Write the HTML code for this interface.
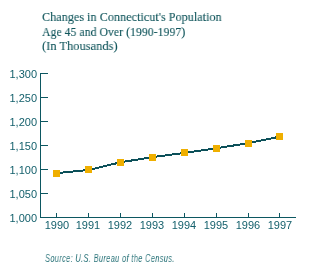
<!DOCTYPE html>
<html><head><meta charset="utf-8">
<style>
html,body{margin:0;padding:0;background:#fff;width:311px;height:270px;overflow:hidden;position:relative}
.t{position:absolute;left:42px;font-family:"Liberation Serif",serif;font-size:13.5px;color:#10555b;-webkit-text-stroke:0.1px #10555b;white-space:nowrap;line-height:14px;transform-origin:0 0;will-change:transform}
.yl{position:absolute;will-change:transform;font-family:"Liberation Sans",sans-serif;font-size:11px;color:#14606c;white-space:nowrap;line-height:11px;text-align:right;width:40px;left:-3px}
.xl{position:absolute;will-change:transform;font-family:"Liberation Sans",sans-serif;font-size:11px;color:#14606c;white-space:nowrap;line-height:11px;text-align:center;width:40px}
.src{position:absolute;will-change:transform;left:45px;top:253.5px;font-family:"Liberation Sans",sans-serif;font-style:italic;font-size:10px;color:#2b747a;letter-spacing:0.48px;white-space:nowrap;line-height:10px;transform:scaleX(0.74);transform-origin:0 0}
svg{position:absolute;left:0;top:0}
</style></head><body>
<div class="t" style="top:10px;transform:scaleX(0.905)">Changes in Connecticut's Population</div>
<div class="t" style="top:24.5px;transform:scaleX(0.876)">Age 45 and Over (1990-1997)</div>
<div class="t" style="top:38.5px;transform:scaleX(0.925)">(In Thousands)</div>

<div class="yl" style="top:69px">1,300</div>
<div class="yl" style="top:93px">1,250</div>
<div class="yl" style="top:117px">1,200</div>
<div class="yl" style="top:141px">1,150</div>
<div class="yl" style="top:165px">1,100</div>
<div class="yl" style="top:189px">1,050</div>
<div class="yl" style="top:213px">1,000</div>

<div class="xl" style="left:37px;top:220px">1990</div>
<div class="xl" style="left:68px;top:220px">1991</div>
<div class="xl" style="left:100px;top:220px">1992</div>
<div class="xl" style="left:132px;top:220px">1993</div>
<div class="xl" style="left:164px;top:220px">1994</div>
<div class="xl" style="left:196px;top:220px">1995</div>
<div class="xl" style="left:228px;top:220px">1996</div>
<div class="xl" style="left:260px;top:220px">1997</div>

<svg width="311" height="270" viewBox="0 0 311 270">
<g fill="#0c5761" shape-rendering="crispEdges">
<rect x="40" y="73" width="1" height="145"/>
<rect x="40" y="217" width="256" height="1"/>
<rect x="40" y="73" width="8" height="1"/>
<rect x="40" y="97" width="8" height="1"/>
<rect x="40" y="121" width="8" height="1"/>
<rect x="40" y="145" width="8" height="1"/>
<rect x="40" y="169" width="8" height="1"/>
<rect x="40" y="193" width="8" height="1"/>
<rect x="56" y="213" width="1" height="4"/>
<rect x="88" y="213" width="1" height="4"/>
<rect x="120" y="213" width="1" height="4"/>
<rect x="152" y="213" width="1" height="4"/>
<rect x="184" y="213" width="1" height="4"/>
<rect x="216" y="213" width="1" height="4"/>
<rect x="248" y="213" width="1" height="4"/>
<rect x="279" y="213" width="1" height="4"/>
</g>
<polyline fill="none" stroke="#0c5059" stroke-width="2" shape-rendering="crispEdges" points="56.5,173.2 88.5,170.0 120.5,162.3 152.5,157.13 184.5,152.86 216.5,148.25 248.5,143.07 279.5,136.7"/>
<g fill="#efaf00" shape-rendering="crispEdges">
<rect x="53" y="170" width="7" height="7"/>
<rect x="85" y="166" width="7" height="7"/>
<rect x="117" y="159" width="7" height="7"/>
<rect x="149" y="154" width="7" height="7"/>
<rect x="181" y="149" width="7" height="7"/>
<rect x="213" y="145" width="7" height="7"/>
<rect x="245" y="140" width="7" height="7"/>
<rect x="276" y="133" width="7" height="7"/>
</g>
</svg>
<div class="src">Source: U.S. Bureau of the Census.</div>
</body></html>
